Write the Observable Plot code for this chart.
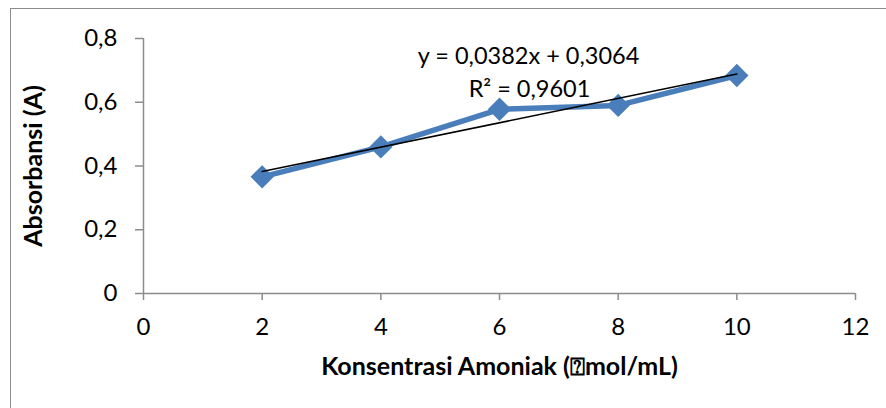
<!DOCTYPE html>
<html>
<head>
<meta charset="utf-8">
<script src="https://cdn.jsdelivr.net/npm/d3@7"></script>
<script src="https://cdn.jsdelivr.net/npm/@observablehq/plot@0.6"></script>
<style>
  html, body { margin: 0; padding: 0; background: #fff; }
  #wrap { position: relative; width: 886px; height: 408px; overflow: hidden; }
  #border { position: absolute; left: 10px; top: 8px; width: 900px; height: 420px; border: 1.5px solid #8c8c8c; box-sizing: border-box; }
  #chart { position: absolute; left: 0; top: 0; }
  svg text { font-family: Lato, "Open Sans", sans-serif; }
</style>
</head>
<body>
<div id="wrap"><div id="border"></div><div id="chart"></div></div>
<script>
const concentration = [2, 4, 6, 8, 10];
const absorbance = [0.366, 0.460, 0.578, 0.590, 0.684];
const xTicks = [0, 2, 4, 6, 8, 10, 12];
const yTicks = [0, 0.2, 0.4, 0.6, 0.8];
const slope = 0.0382;
const intercept = 0.3064;
const equationLine1 = "y = 0,0382x + 0,3064";
const equationLine2 = "R² = 0,9601";
const xTitle = "Konsentrasi Amoniak (⍰mol/mL)";
const yTitle = "Absorbansi (A)";

const data = concentration.map((x, i) => ({x, y: absorbance[i]}));
const trendX = [d3.min(concentration), d3.max(concentration)];
const trend = trendX.map(x => ({x, y: slope * x + intercept}));
const fmt = d => String(d).replace(".", ",");

const plot = Plot.plot({
  width: 886,
  height: 408,
  marginLeft: 143,
  marginRight: 31,
  marginTop: 38,
  marginBottom: 115,
  style: {fontFamily: "Lato, 'Open Sans', sans-serif", fontSize: "24px", color: "#000", background: "transparent"},
  x: {domain: [0, 12]},
  y: {domain: [0, 0.8]},
  marks: [
    Plot.axisX({ticks: xTicks, tickSize: 7, tickPadding: 17, tickFormat: fmt, label: null, stroke: "#8c8c8c", strokeWidth: 1.5, color: "#000", fontSize: 24}),
    Plot.axisY({ticks: yTicks, tickSize: 8, tickPadding: 18, tickFormat: fmt, label: null, stroke: "#8c8c8c", strokeWidth: 1.5, color: "#000", fontSize: 24}),
    Plot.ruleX([0], {y1: 0, y2: 0.8, stroke: "#8c8c8c", strokeWidth: 1.5}),
    Plot.ruleY([0], {x1: 0, x2: 12, stroke: "#8c8c8c", strokeWidth: 1.5}),
    Plot.line(data, {x: "x", y: "y", stroke: "#4a7ebb", strokeWidth: 5.5, strokeLinejoin: "round"}),
    Plot.dot(data, {x: "x", y: "y", symbol: "diamond2", r: 10.5, fill: "#4a7ebb", stroke: "none"}),
    Plot.line(trend, {x: "x", y: "y", stroke: "#000", strokeWidth: 1.5}),
    Plot.text([equationLine1], {text: d => d, frameAnchor: "top", dx: 29, dy: 9, fontSize: 23.5, fill: "#000"}),
    Plot.text([equationLine2], {text: d => d, frameAnchor: "top", dx: 30, dy: 42, fontSize: 23.5, fill: "#000"}),
    Plot.text([yTitle], {text: d => d, frameAnchor: "left", textAnchor: "middle", dx: -110, rotate: -90, fontSize: 25, fontWeight: "bold", fill: "#000"}),
    Plot.text([xTitle], {text: d => d, frameAnchor: "bottom", textAnchor: "middle", dy: 81, fontSize: 25, fontWeight: "bold", fill: "#000"})
  ]
});
document.getElementById("chart").appendChild(plot);
</script>
</body>
</html>
